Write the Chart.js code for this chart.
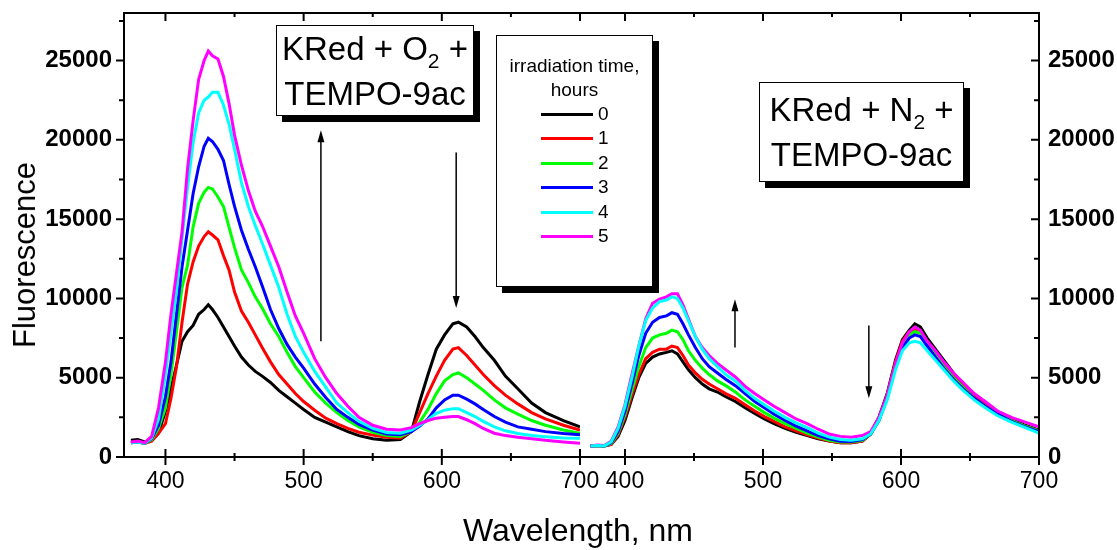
<!DOCTYPE html>
<html>
<head>
<meta charset="utf-8">
<script src="https://cdn.jsdelivr.net/npm/chart.js@4"></script>
<style>
body { margin: 0; background: #fff; width: 1117px; height: 550px; overflow: hidden; position: relative;
       font-family: "Liberation Sans", Arial, sans-serif; color: #000; }
canvas { position: absolute; left: 0; top: 0; }
.box { position: absolute; background: #fff; border: 1px solid #000; box-shadow: 6px 6px 0 #000; box-sizing: border-box; }
.note { font-size: 33px; line-height: 45px; text-align: center; }
.note sub { font-size: 21px; line-height: 0; vertical-align: -8px; }
#yTitle { position: absolute; left: 25px; top: 255px; transform: translate(-50%, -50%) rotate(-90deg);
          font-size: 31px; white-space: nowrap; }
#xTitle { position: absolute; left: 578px; top: 512px; transform: translateX(-50%); font-size: 32px;
          line-height: 36px; white-space: nowrap; }
#legend .head { position: absolute; left: 0; width: 100%; text-align: center; font-size: 19px; }
#legend .row { position: absolute; left: 44px; height: 20px; font-size: 19px; line-height: 20px; }
#legend .row i { position: absolute; left: 0; top: 9px; width: 52px; height: 3px; }
#legend .row span { position: absolute; left: 57px; top: 0; }
</style>
</head>
<body>
<canvas id="leftChart" width="1117" height="550"></canvas>
<canvas id="rightChart" width="1117" height="550"></canvas>
<div id="yTitle">Fluorescence</div>
<div id="xTitle">Wavelength, nm</div>
<div class="box note" style="left:276px;top:25px;width:198px;height:91px;">KRed + O<sub>2</sub> +<br>TEMPO-9ac</div>
<div class="box note" style="left:759px;top:82px;width:205px;height:100px;padding-top:4px;">KRed + N<sub>2</sub> +<br>TEMPO-9ac</div>
<div class="box" id="legend" style="left:496px;top:35px;width:157px;height:252px;"></div>
<script>
// series labels (irradiation time, hours) and colours
const hours = ['0', '1', '2', '3', '4', '5'];
const colors = ['#000000', '#ff0000', '#00ff00', '#0000ff', '#00ffff', '#ff00ff'];

// axis ticks
const xMajor = [400, 500, 600, 700];
const xMinor = [450, 550, 650];
const yMajor = [0, 5000, 10000, 15000, 20000, 25000];
const yMinor = [2500, 7500, 12500, 17500, 22500, 27500];

// left panel: KRed + O2 + TEMPO-9ac
const leftWl = [375, 380, 385, 390, 395, 400, 404, 408, 412, 416, 420, 424, 428, 431, 434, 438, 442, 446, 450, 455,
                460, 465, 470, 476, 482, 488, 494, 500, 508, 516, 524, 532, 540, 550, 560, 570, 578, 584, 590, 596,
                602, 608, 612, 618, 624, 630, 638, 646, 655, 665, 675, 688, 700];
const left0 = [1050, 1100, 950, 1050, 1500, 2900, 4300, 5800, 7300, 7900, 8300, 9000, 9300, 9600, 9300, 8800, 8200, 7600, 7000, 6300,
               5800, 5400, 5100, 4700, 4200, 3800, 3400, 3000, 2500, 2200, 1900, 1600, 1350, 1150, 1050, 1100, 1600, 3500, 5200, 6800,
               7700, 8400, 8500, 8200, 7600, 6900, 6100, 5100, 4300, 3400, 2800, 2300, 1900];
const left1 = [900, 950, 860, 1000, 1500, 2100, 3700, 5700, 8500, 10900, 12300, 13300, 13900, 14200, 14000, 13700, 12700, 11800, 10400, 9200,
               8500, 7700, 6900, 6000, 5200, 4600, 4000, 3500, 2950, 2450, 2100, 1800, 1560, 1380, 1250, 1200, 1600, 2800, 4000, 5100,
               6100, 6800, 6900, 6400, 5800, 5200, 4500, 3900, 3350, 2800, 2400, 2000, 1700];
const left2 = [900, 950, 860, 1100, 1800, 3100, 5200, 7900, 10700, 12100, 14500, 16000, 16700, 17000, 16900, 16400, 15800, 14500, 13200, 11800,
               11000, 10100, 9400, 8400, 7600, 6600, 5700, 5000, 4100, 3400, 2800, 2300, 1900, 1550, 1350, 1300, 1600, 2200, 3000, 4000,
               4800, 5200, 5300, 5000, 4600, 4200, 3600, 3100, 2700, 2300, 2000, 1700, 1500];
const left3 = [900, 950, 870, 1150, 2000, 3800, 6000, 9000, 12000, 14300, 16600, 18300, 19600, 20100, 19900, 19400, 18700, 17200, 15800, 14300,
               13100, 12000, 10800, 9300, 8100, 7100, 6300, 5600, 4600, 3750, 3000, 2500, 2050, 1700, 1450, 1400, 1600, 1950, 2400, 3100,
               3600, 3900, 3900, 3650, 3350, 3000, 2550, 2200, 1900, 1750, 1600, 1480, 1400];
const left4 = [900, 950, 880, 1200, 2400, 5200, 7900, 10500, 13800, 17000, 19800, 21700, 22500, 22700, 23000, 23000, 22200, 21000, 19400, 17300,
               15800, 14600, 13500, 12100, 10700, 9000, 7600, 6600, 5400, 4400, 3400, 2800, 2250, 1800, 1550, 1500, 1700, 2000, 2350, 2750,
               2950, 3050, 3050, 2800, 2550, 2250, 1900, 1650, 1480, 1350, 1270, 1200, 1180];
const left5 = [950, 1000, 900, 1300, 3100, 6000, 9000, 11600, 14200, 18200, 21200, 23800, 25000, 25600, 25300, 25100, 24000, 22300, 20300, 18400,
               16800, 15500, 14600, 13300, 12000, 10400, 8900, 7800, 6200, 5000, 4000, 3200, 2500, 2000, 1750, 1700, 1850, 2100, 2300, 2450,
               2500, 2550, 2550, 2350, 2100, 1800, 1500, 1350, 1250, 1150, 1050, 950, 870];

// right panel: KRed + N2 + TEMPO-9ac
const rightWl = [375, 380, 385, 390, 395, 400, 405, 410, 415, 420, 425, 430, 434, 438, 442, 446, 451, 456, 461, 467,
                 473, 480, 487, 494, 501, 508, 516, 524, 532, 540, 548, 556, 564, 572, 578, 584, 590, 596, 601, 606,
                 610, 614, 619, 625, 631, 638, 645, 653, 661, 670, 680, 690, 700];
const right0 = [700, 720, 700, 800, 1300, 2300, 3700, 5000, 5900, 6300, 6500, 6600, 6700, 6500, 6000, 5500, 5000, 4600, 4300, 4100,
                3800, 3500, 3100, 2750, 2400, 2100, 1800, 1550, 1350, 1150, 1000, 900, 900, 1000, 1450, 2500, 4000, 6100, 7400, 8000,
                8400, 8200, 7500, 6800, 6100, 5300, 4600, 3900, 3300, 2800, 2400, 2000, 1700];
const right1 = [700, 720, 700, 800, 1400, 2500, 3900, 5200, 6200, 6600, 6800, 6800, 7000, 6900, 6400, 5800, 5300, 4900, 4600, 4300,
                4000, 3700, 3300, 2900, 2550, 2250, 1900, 1650, 1400, 1200, 1000, 900, 900, 1000, 1450, 2400, 3900, 6000, 7300, 7900,
                8000, 7900, 7300, 6600, 5900, 5200, 4500, 3800, 3300, 2800, 2300, 1950, 1650];
const right2 = [700, 720, 700, 850, 1500, 2700, 4200, 5700, 6900, 7500, 7700, 7800, 8000, 7900, 7400, 6700, 6100, 5600, 5200, 4800,
                4500, 4100, 3600, 3200, 2800, 2450, 2100, 1800, 1500, 1250, 1050, 950, 950, 1050, 1450, 2300, 3800, 5800, 7100, 7700,
                7900, 7800, 7200, 6400, 5700, 5000, 4400, 3700, 3200, 2700, 2300, 1950, 1650];
const right3 = [700, 720, 700, 900, 1600, 2900, 4600, 6400, 7800, 8500, 8800, 8900, 9100, 9000, 8400, 7700, 6900, 6200, 5700, 5300,
                4900, 4500, 4000, 3500, 3100, 2700, 2300, 1950, 1650, 1350, 1150, 1000, 980, 1100, 1450, 2300, 3700, 5700, 6900, 7500,
                7700, 7600, 7000, 6300, 5600, 4900, 4300, 3700, 3200, 2700, 2250, 1900, 1600];
const right4 = [700, 720, 700, 950, 1800, 3200, 5000, 7000, 8600, 9400, 9800, 9900, 10100, 10000, 9400, 8600, 7600, 6800, 6200, 5700,
                5200, 4800, 4200, 3700, 3300, 2900, 2500, 2150, 1850, 1500, 1250, 1100, 1050, 1150, 1450, 2300, 3600, 5500, 6700, 7200,
                7300, 7200, 6700, 6100, 5500, 4800, 4200, 3600, 3100, 2600, 2200, 1850, 1500];
const right5 = [700, 750, 720, 1000, 1900, 3300, 5200, 7000, 8700, 9700, 9950, 10100, 10300, 10300, 9600, 8700, 7600, 6900, 6400, 5900,
                5500, 5050, 4450, 4000, 3600, 3200, 2800, 2400, 2100, 1750, 1450, 1300, 1250, 1350, 1600, 2500, 3900, 5900, 7200, 7900,
                8200, 8000, 7300, 6700, 6000, 5300, 4700, 4000, 3500, 2900, 2500, 2200, 1900];

// arrows: [wavelength, from, to]
const leftArrows = [[512.5, 7300, 20600], [610.4, 19200, 9400]];
const rightArrows = [[479.7, 6900, 9950], [576.7, 8300, 3700]];

const FONT = '"Liberation Sans", Arial, sans-serif';

// legend box
const legend = document.getElementById('legend');
legend.innerHTML = '<div class="head" style="top:19px">irradiation time,</div><div class="head" style="top:43px">hours</div>';
hours.forEach((h, i) => {
   const row = document.createElement('div');
   row.className = 'row';
   row.style.top = (68 + i * 24.4) + 'px';
   row.innerHTML = `<i style="background:${colors[i]}"></i><span>${h}</span>`;
   legend.appendChild(row);
});

function makeSets(wl, series, topOrder) {
   return series.map((vals, i) => ({
      label: hours[i],
      data: wl.map((w, k) => ({ x: w, y: vals[k] })),
      borderColor: colors[i],
      borderWidth: 3,
      pointRadius: 0,
      tension: 0,
      order: topOrder[i]
   }));
}

const framePlugin = {
   id: 'frame',
   afterDraw(chart, args, o) {
      const { ctx, chartArea: a } = chart;
      const xs = chart.scales.x, ys = chart.scales.y;
      const ax = o.side === 'left' ? a.left : a.right;
      ctx.save();
      ctx.strokeStyle = '#000';
      ctx.fillStyle = '#000';
      ctx.lineWidth = 2;
      ctx.beginPath();
      ctx.moveTo(a.left, a.top); ctx.lineTo(a.right, a.top);
      ctx.moveTo(a.left, a.bottom); ctx.lineTo(a.right, a.bottom);
      ctx.moveTo(ax, a.top - 1); ctx.lineTo(ax, a.bottom + 1);
      const xt = (v, len) => {
         const p = xs.getPixelForValue(v);
         ctx.moveTo(p, a.bottom - len); ctx.lineTo(p, a.bottom + len);
         ctx.moveTo(p, a.top); ctx.lineTo(p, a.top + len);
      };
      xMajor.forEach(v => xt(v, 8));
      xMinor.forEach(v => xt(v, 4));
      // y ticks point to the left on both sides
      const yt = (v, len) => {
         const p = ys.getPixelForValue(v);
         ctx.moveTo(ax - len, p); ctx.lineTo(ax, p);
      };
      yMajor.forEach(v => yt(v, 8));
      yMinor.forEach(v => yt(v, 5));
      ctx.stroke();

      ctx.lineWidth = 1.5;
      o.arrows.forEach(([w, from, to]) => {
         const px = xs.getPixelForValue(w);
         const y1 = ys.getPixelForValue(from), y2 = ys.getPixelForValue(to);
         const d = y2 > y1 ? 1 : -1;
         ctx.beginPath();
         ctx.moveTo(px, y1); ctx.lineTo(px, y2 - d * 8);
         ctx.stroke();
         ctx.beginPath();
         ctx.moveTo(px, y2);
         ctx.lineTo(px - 3.5, y2 - d * 12);
         ctx.lineTo(px + 3.5, y2 - d * 12);
         ctx.closePath();
         ctx.fill();
      });
      ctx.restore();
   }
};

function makeOptions(side, xMin, arrows) {
   return {
      responsive: false,
      animation: false,
      layout: { padding: side === 'left' ? { top: 13, left: 0, right: 537, bottom: 0 } : { top: 13, left: 580, right: 0, bottom: 0 } },
      plugins: { legend: { display: false }, tooltip: { enabled: false }, frame: { side: side, arrows: arrows } },
      scales: {
         x: {
            type: 'linear', min: xMin, max: 700,
            grid: { display: false, drawTicks: false },
            border: { display: false },
            afterBuildTicks: s => { s.ticks = xMajor.map(v => ({ value: v })); },
            afterFit: s => { s.height = 93; s.paddingLeft = 0; s.paddingRight = 0; },
            ticks: { autoSkip: false, maxRotation: 0, padding: 11, color: '#000', font: { family: FONT, size: 23 },
                     callback: v => String(v) }
         },
         y: {
            type: 'linear', position: side, min: 0, max: 28000,
            grid: { display: false, drawTicks: false },
            border: { display: false },
            afterBuildTicks: s => { s.ticks = yMajor.map(v => ({ value: v })); },
            afterFit: s => { s.width = side === 'left' ? 124 : 78; s.paddingTop = 0; s.paddingBottom = 0; },
            ticks: { padding: side === 'left' ? 12 : 9, color: '#000', font: { family: FONT, size: 24, weight: 'bold' },
                     callback: v => String(v) }
         }
      }
   };
}

let leftChart = new Chart(document.getElementById('leftChart'), {
   type: 'line',
   data: { datasets: makeSets(leftWl, [left0, left1, left2, left3, left4, left5], [5, 4, 3, 2, 1, 0]) },
   options: makeOptions('left', 370, leftArrows),
   plugins: [framePlugin]
});

let rightChart = new Chart(document.getElementById('rightChart'), {
   type: 'line',
   data: { datasets: makeSets(rightWl, [right0, right1, right2, right3, right4, right5], [5, 4, 3, 2, 0, 1]) },
   options: makeOptions('right', 367.4, rightArrows),
   plugins: [framePlugin]
});
</script>
</body>
</html>
